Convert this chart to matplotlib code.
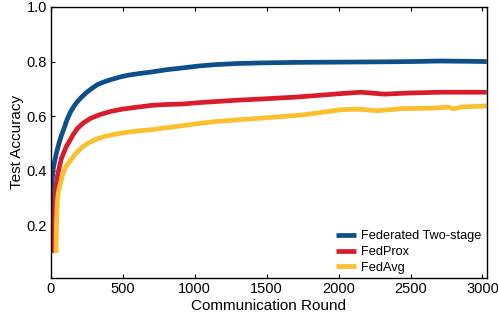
import matplotlib
matplotlib.use("Agg")
import matplotlib.pyplot as plt

plt.rcParams["font.family"] = ["Liberation Sans", "DejaVu Sans"]

# communication round / test accuracy
two_stage_x = [0, 0, 3, 8, 16, 27, 40, 55, 72, 91, 113, 138, 160, 184, 218, 254, 290, 324, 370, 417,
               475, 534, 610, 700, 800, 918, 1030, 1150, 1300, 1455, 1700, 2000, 2300, 2500, 2700, 2900, 3030]
two_stage_y = [0.10, 0.29, 0.33, 0.37, 0.41, 0.44, 0.47, 0.50, 0.53, 0.556, 0.59, 0.618, 0.637, 0.654, 0.673, 0.69, 0.704, 0.716, 0.726, 0.734,
               0.743, 0.75, 0.756, 0.762, 0.77, 0.777, 0.784, 0.789, 0.793, 0.795, 0.797, 0.798, 0.799, 0.80, 0.802, 0.801, 0.80]

fedprox_x = [21, 23, 28, 36, 46, 56, 72, 91, 107, 126, 153, 184, 228, 277, 345, 417, 495, 580, 700, 800,
             918, 1030, 1150, 1300, 1455, 1700, 1850, 2016, 2156, 2317, 2483, 2716, 3030]
fedprox_y = [0.10, 0.20, 0.29, 0.35, 0.385, 0.41, 0.445, 0.47, 0.49, 0.507, 0.532, 0.556, 0.577, 0.593, 0.607, 0.618, 0.626, 0.632, 0.64, 0.643,
             0.645, 0.65, 0.654, 0.659, 0.663, 0.67, 0.676, 0.683, 0.688, 0.681, 0.685, 0.688, 0.688]

fedavg_x = [35, 38, 44, 52, 63, 78, 96, 116, 138, 160, 184, 218, 254, 310, 371, 450, 534, 620, 700, 800,
            918, 1030, 1150, 1300, 1455, 1600, 1750, 1880, 2016, 2133, 2273, 2436, 2670, 2763, 2798, 2856, 3030]
fedavg_y = [0.10, 0.20, 0.29, 0.325, 0.35, 0.38, 0.41, 0.425, 0.44, 0.456, 0.47, 0.487, 0.501, 0.515, 0.526, 0.535, 0.542, 0.547, 0.551, 0.558,
            0.566, 0.574, 0.581, 0.587, 0.593, 0.599, 0.605, 0.614, 0.624, 0.626, 0.620, 0.628, 0.630, 0.634, 0.627, 0.634, 0.638]

x_ticks = [0, 500, 1000, 1500, 2000, 2500, 3000]
y_ticks = [0.2, 0.4, 0.6, 0.8, 1.0]

fig = plt.figure(figsize=(4.98, 3.19), dpi=100)
ax = fig.add_axes([0.1024, 0.1295, 0.875, 0.849])

lw = 3.4
ax.plot(two_stage_x, two_stage_y, color="#0d4e8b", lw=lw, solid_capstyle="butt", label="Federated Two-stage")
ax.plot(fedprox_x, fedprox_y, color="#d91c2c", lw=lw, solid_capstyle="butt", label="FedProx")
ax.plot(fedavg_x, fedavg_y, color="#fcbf30", lw=lw, solid_capstyle="butt", label="FedAvg")

ax.set_xlim(0, 3030)
ax.set_ylim(0.01, 1.0)
ax.set_xticks(x_ticks)
ax.set_yticks(y_ticks)
ax.set_yticklabels(["0.2", "0.4", "0.6", "0.8", "1.0"])
ax.tick_params(direction="in", top=True, right=False, length=3, width=0.8, labelsize=10.5, pad=3)
for s in ax.spines.values():
    s.set_linewidth(1.0)

ax.set_xlabel("Communication Round", fontsize=11, labelpad=2)
ax.set_ylabel("Test Accuracy", fontsize=11, labelpad=2)

ax.legend(loc="lower right", frameon=False, fontsize=9.2, handlelength=1.6,
          handletextpad=0.4, labelspacing=0.3, borderaxespad=0.0,
          bbox_to_anchor=(1.0, -0.005))

fig.savefig("out.png", dpi=100)
